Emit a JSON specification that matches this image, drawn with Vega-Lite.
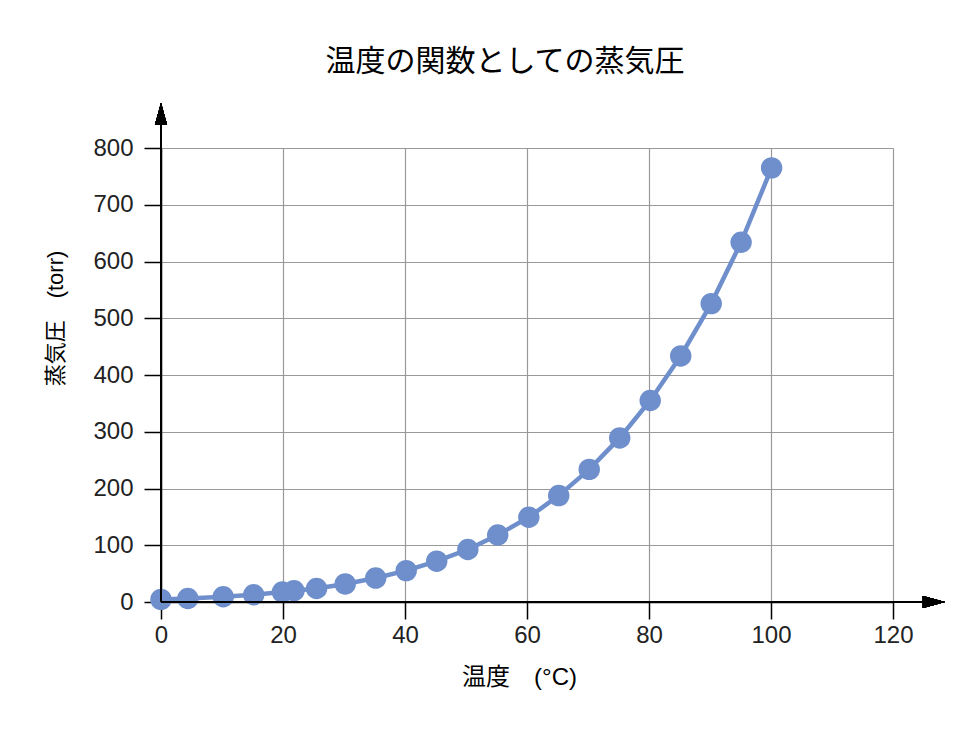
{
  "$schema": "https://vega.github.io/schema/vega-lite/v6.json",
  "width": 732,
  "height": 454,
  "autosize": {"type": "none"},
  "padding": {"left": 161, "top": 148, "right": 82, "bottom": 135},
  "background": "white",
  "config": {
    "font": "Liberation Sans, Noto Sans CJK JP",
    "view": {"stroke": null}
  },
  "title": {
    "text": "温度の関数としての蒸気圧",
    "font": "Noto Sans CJK JP",
    "fontSize": 30,
    "fontWeight": "normal",
    "color": "#000000",
    "anchor": "middle",
    "frame": "group",
    "dx": -22,
    "offset": 26
  },
  "data": {
    "values": [
      {"temp": 0, "pressure": 4.6},
      {"temp": 4.4, "pressure": 6.1},
      {"temp": 10.2, "pressure": 9.2},
      {"temp": 15.2, "pressure": 12.8},
      {"temp": 19.9, "pressure": 17.5},
      {"temp": 21.8, "pressure": 19.8},
      {"temp": 25.5, "pressure": 23.8},
      {"temp": 30.2, "pressure": 31.8},
      {"temp": 35.2, "pressure": 42.2},
      {"temp": 40.2, "pressure": 55.3},
      {"temp": 45.2, "pressure": 71.9},
      {"temp": 50.3, "pressure": 92.5},
      {"temp": 55.2, "pressure": 118.0},
      {"temp": 60.3, "pressure": 149.4},
      {"temp": 65.2, "pressure": 187.5},
      {"temp": 70.2, "pressure": 233.7},
      {"temp": 75.2, "pressure": 289.1},
      {"temp": 80.2, "pressure": 355.1},
      {"temp": 85.2, "pressure": 433.6},
      {"temp": 90.2, "pressure": 525.8},
      {"temp": 95.1, "pressure": 633.9},
      {"temp": 100.1, "pressure": 765}
    ]
  },
  "layer": [
    {
      "mark": {"type": "line", "color": "#6f8fcc", "strokeWidth": 4.5,
        "point": {"filled": true, "size": 460, "color": "#6f8fcc", "opacity": 1}},
      "encoding": {
        "x": {
          "field": "temp", "type": "quantitative",
          "scale": {"domain": [0, 120], "nice": false, "zero": false},
          "axis": {
            "title": "温度　(°C)",
            "values": [0, 20, 40, 60, 80, 100, 120],
            "labelFlush": false,
            "grid": true, "gridColor": "#999999", "gridWidth": 1.2,
            "domainColor": "#000000", "domainWidth": 1.5,
            "tickColor": "#000000", "tickSize": 17, "tickWidth": 1.5,
            "labelFontSize": 24, "labelColor": "#222222", "labelPadding": 4,
            "labelFont": "Liberation Sans",
            "titleFontSize": 24, "titleFontWeight": "normal", "titleColor": "#000000",
            "titlePadding": 18, "titleX": 358
          }
        },
        "y": {
          "field": "pressure", "type": "quantitative",
          "scale": {"domain": [0, 800], "nice": false, "zero": false},
          "axis": {
            "title": "蒸気圧　(torr)",
            "values": [0, 100, 200, 300, 400, 500, 600, 700, 800],
            "labelFlush": false,
            "grid": true, "gridColor": "#999999", "gridWidth": 1.2,
            "domainColor": "#000000", "domainWidth": 1.5,
            "tickColor": "#000000", "tickSize": 17, "tickWidth": 1.5,
            "labelFontSize": 24, "labelColor": "#222222", "labelPadding": 11,
            "labelFont": "Liberation Sans",
            "titleFontSize": 22, "titleFontWeight": "normal", "titleColor": "#000000",
            "titlePadding": 25, "titleY": 170
          }
        }
      }
    },
    {
      "mark": {"type": "rule", "color": "#000000", "strokeWidth": 1.5},
      "encoding": {"x": {"datum": 0}, "x2": {"datum": 124.9}, "y": {"datum": 0}}
    },
    {
      "mark": {"type": "rule", "color": "#000000", "strokeWidth": 1.5},
      "encoding": {"x": {"datum": 0}, "y": {"datum": 0}, "y2": {"datum": 842}}
    },
    {
      "mark": {"type": "point", "filled": true, "color": "#000000", "opacity": 1, "size": 484,
        "shape": "M-0.55,1L0.55,1L0,-1Z"},
      "encoding": {"x": {"datum": 0}, "y": {"datum": 860}}
    },
    {
      "mark": {"type": "point", "filled": true, "color": "#000000", "opacity": 1, "size": 484,
        "shape": "M-1,-0.55L-1,0.55L1,0Z"},
      "encoding": {"x": {"datum": 126.7}, "y": {"datum": 0}}
    }
  ]
}
